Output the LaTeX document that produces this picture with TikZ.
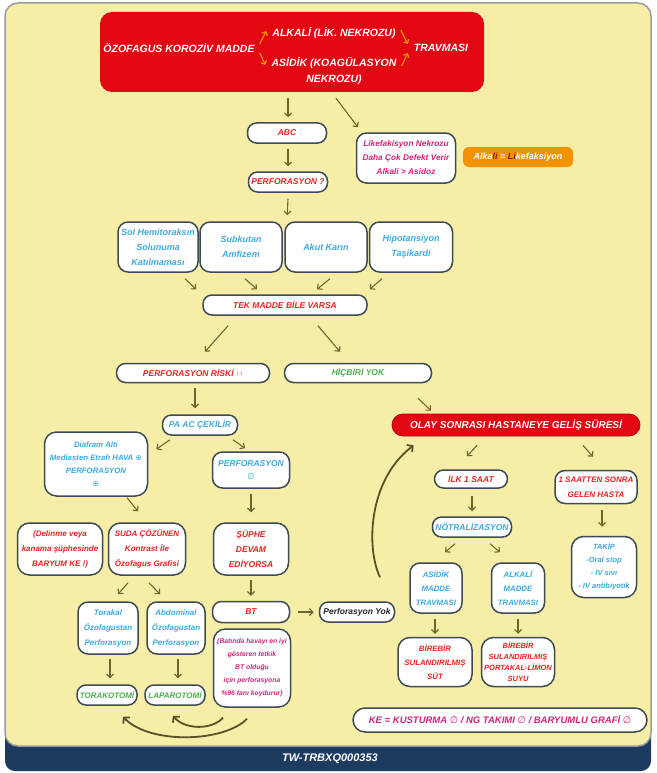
\documentclass[tikz,border=0pt]{standalone}
\usepackage{fontspec}
\setmainfont{Liberation Sans}
\newfontfamily\symfont{DejaVu Sans}
\usetikzlibrary{arrows.meta}

\definecolor{panel}{HTML}{F6EEA6}
\definecolor{framegray}{HTML}{9A9C9E}
\definecolor{navy}{HTML}{1D3A5F}
\definecolor{alarm}{HTML}{E30613}
\definecolor{amber}{HTML}{F39200}
\definecolor{edge}{HTML}{3E4B55}
\definecolor{arrc}{HTML}{6F6431}
\definecolor{redt}{HTML}{E52421}
\definecolor{bluet}{HTML}{3FA9E0}
\definecolor{magt}{HTML}{D4237A}
\definecolor{greent}{HTML}{4DAF4A}
\definecolor{dred}{HTML}{8B1A1A}

\newcommand{\plusc}{{\symfont\mdseries\upshape ⊕}}
\newcommand{\nullc}{{\symfont\mdseries\upshape ∅}}

\begin{document}
\begin{tikzpicture}[x=1pt,y=-1pt,
  every node/.style={font=\bfseries\itshape\fontsize{8.5}{13}\selectfont},
  sz/.style 2 args={minimum width=#1pt, minimum height=#2pt},
  box/.style={draw=edge, line width=1.5pt, fill=white, align=center, inner sep=1pt},
  rbox/.style={box, rounded corners=10pt},
  pill/.style={box, rounded corners=9pt},
  wtxt/.style={text=white, inner sep=0pt, font=\bfseries\itshape\fontsize{10.5}{14}\selectfont},
  arr/.style={draw=arrc, line width=1.1pt, -{Straight Barb[length=3.5pt,width=7pt]}},
  oarr/.style={draw=amber, line width=1.2pt, -{Straight Barb[length=3pt,width=6pt]}},
  carr/.style={draw=arrc!80!black, line width=1.8pt, -{Straight Barb[length=4pt,width=9pt]}}]

\useasboundingbox (0,0) rectangle (656,773);
\fill[white] (0,0) rectangle (656,773);

% panel and footer band
\fill[navy, rounded corners=10pt] (5,725) rectangle (651,771);
\draw[framegray, line width=1.5pt, fill=panel, rounded corners=13pt] (5,3) rectangle (651,746);
\node[text=white, font=\bfseries\itshape\fontsize{11}{13}\selectfont] (code) at (330,759) {TW-TRBXQ000353};

% heading block
\node[fill=alarm, rounded corners=12pt, sz={384}{80}] (top) at (292,52) {};
\node[wtxt] (t1) at (179,48) {ÖZOFAGUS KOROZİV MADDE};
\node[wtxt] (t2) at (334,33) {ALKALİ (LİK. NEKROZU)};
\node[wtxt] (t3) at (334,63) {ASİDİK (KOAGÜLASYON};
\node[wtxt] (t3b) at (334,80) {NEKROZU)};
\node[wtxt] (t4) at (441,48) {TRAVMASI};
\draw[oarr] ([shift={(5,-4)}]t1.east) -- ([shift={(-6,-2)}]t2.west);
\draw[oarr] ([shift={(5,5)}]t1.east) -- ([shift={(-6,2)}]t3.west);
\draw[oarr] ([shift={(5,-3)}]t2.east) -- ([shift={(-6,-4)}]t4.west);
\draw[oarr] ([shift={(5,3)}]t3.east) -- ([shift={(-6,5)}]t4.west);

% first steps
\node[pill, sz={79}{20}, text=redt] (abc) at (287,133) {ABC};
\node[pill, sz={79}{20}, text=redt] (perfq) at (288,182) {PERFORASYON ?};
\node[rbox, sz={99}{50}, text=magt, font=\bfseries\itshape\fontsize{8.3}{14}\selectfont] (likef) at (406,158)
  {Likefakisyon Nekrozu\\Daha Çok Defekt Verir\\Alkali > Asidoz};
\node[fill=amber, rounded corners=6pt, sz={110}{20}, text=white, font=\bfseries\itshape\fontsize{9}{11}\selectfont] (alk) at (518,157)
  {Alka\textcolor{dred}{li} = \textcolor{dred}{Li}kefaksiyon};

\draw[arr] ([shift={(-4,6)}]top.south) -- ([shift={(1,-5)}]abc.north);
\draw[arr] ([shift={(44,6)}]top.south) -- ([shift={(-48,-5)}]likef.north);
\draw[arr] ([shift={(1,5)}]abc.south) -- ([shift={(0,-5)}]perfq.north);

% findings
\node[rbox, sz={80}{50}, text=bluet, font=\bfseries\itshape\fontsize{9}{15}\selectfont] (sol) at (158,247) {Sol Hemitoraksın\\Solunuma\\Katılmaması};
\node[rbox, sz={82}{50}, text=bluet, font=\bfseries\itshape\fontsize{9}{15}\selectfont] (sub) at (241,247) {Subkutan\\Amfizem};
\node[rbox, sz={82}{50}, text=bluet, font=\bfseries\itshape\fontsize{9}{15}\selectfont] (akut) at (326,247) {Akut Karın};
\node[rbox, sz={83}{50}, text=bluet, font=\bfseries\itshape\fontsize{9}{15}\selectfont] (hipo) at (411,247) {Hipotansiyon\\Taşikardi};
\draw[arr] ([shift={(0,6)}]perfq.south) -- ([shift={(3,-6)}]akut.north west);

\node[pill, sz={164}{20}, text=redt] (tek) at (285,305) {TEK MADDE BİLE VARSA};
\draw[arr] ([shift={(27,6)}]sol.south) -- ([shift={(-6,-5)}]tek.north west);
\draw[arr] ([shift={(4,6)}]sub.south) -- ([shift={(-28,-5)}]tek.north);
\draw[arr] ([shift={(4,6)}]akut.south) -- ([shift={(32,-5)}]tek.north);
\draw[arr] ([shift={(-29,6)}]hipo.south) -- ([shift={(2,-5)}]tek.north east);

\node[pill, sz={153}{19}, text=redt] (risk) at (193,373) {PERFORASYON RİSKİ {\fontsize{7}{7}\selectfont ↑↑}};
\node[pill, sz={147}{19}, text=greent] (hic) at (358,373) {HİÇBİRİ YOK};
\draw[arr] ([shift={(-57,10)}]tek.south) -- ([shift={(12,-11)}]risk.north);
\draw[arr] ([shift={(33,10)}]tek.south) -- ([shift={(-18,-11)}]hic.north);

% perforation branch
\node[pill, sz={75}{20}, text=bluet] (paac) at (200,425) {PA AC ÇEKİLİR};
\draw[arr] ([shift={(2,5)}]risk.south) -- ([shift={(-5,-6)}]paac.north);

\node[rbox, rounded corners=12pt, sz={103}{64}, text=bluet, font=\bfseries\itshape\fontsize{7.8}{13}\selectfont] (diaf) at (96,464)
  {Diafram Altı\\Mediasten Etrafı HAVA \plusc\\PERFORASYON\\\plusc};
\node[rbox, sz={77}{36}, text=bluet] (perf0) at (251,470) {PERFORASYON\\\nullc};
\draw[arr] ([shift={(-30,4)}]paac.south) -- ([shift={(8,18)}]diaf.north east);
\draw[arr] ([shift={(33,4)}]paac.south) -- ([shift={(-6,-3)}]perf0.north);

\node[rbox, rounded corners=12pt, sz={85}{52}, text=redt, font=\bfseries\itshape\fontsize{8}{15}\selectfont] (delin) at (60,549)
  {(Delinme veya\\kanama şüphesinde\\BARYUM KE !)};
\node[rbox, rounded corners=12pt, sz={77}{52}, text=redt, font=\bfseries\itshape\fontsize{8}{15}\selectfont] (suda) at (147,549)
  {SUDA ÇÖZÜNEN\\Kontrast İle\\Özofagus Grafisi};
\node[rbox, rounded corners=12pt, sz={75}{52}, text=redt, font=\bfseries\itshape\fontsize{8.5}{15}\selectfont] (suphe) at (251,549)
  {ŞÜPHE\\DEVAM\\EDİYORSA};
\draw[arr] ([shift={(31,1)}]diaf.south) -- ([shift={(-9,-11)}]suda.north);
\draw[arr] ([shift={(0,5)}]perf0.south) -- ([shift={(0,-10)}]suphe.north);

\node[rbox, sz={60}{52}, text=bluet, font=\bfseries\itshape\fontsize{8}{15}\selectfont] (torakal) at (108,628)
  {Torakal\\Özofagustan\\Perforasyon};
\node[rbox, sz={58}{52}, text=bluet, font=\bfseries\itshape\fontsize{8}{15}\selectfont] (abdom) at (176,628)
  {Abdominal\\Özofagustan\\Perforasyon};
\draw[arr] ([shift={(-19,7)}]suda.south) -- ([shift={(10,-7)}]torakal.north);
\draw[arr] ([shift={(2,7)}]suda.south) -- ([shift={(-16,-7)}]abdom.north);

\node[pill, sz={77}{21}, text=redt] (bt) at (251,612) {BT};
\draw[arr] ([shift={(0,4)}]suphe.south) -- ([shift={(0,-5)}]bt.north);
\node[rbox, rounded corners=12pt, sz={77}{78}, text=magt, font=\bfseries\itshape\fontsize{6.8}{13}\selectfont] (batin) at (252,668)
  {(Batında havayı en iyi\\gösteren tetkik\\BT olduğu\\için perforasyona\\\%96 tanı koydurur)};
\node[pill, sz={75}{20}, text=black!85] (pyok) at (357,612) {Perforasyon Yok};
\draw[arr] ([shift={(8,0)}]bt.east) -- ([shift={(-5,0)}]pyok.west);

\node[pill, sz={60}{20}, text=greent, font=\bfseries\itshape\fontsize{8}{10}\selectfont] (torako) at (107,695) {TORAKOTOMİ};
\node[pill, sz={60}{20}, text=greent, font=\bfseries\itshape\fontsize{8}{10}\selectfont] (laparo) at (175,695) {LAPAROTOMİ};
\draw[arr] ([shift={(2,4)}]torakal.south) -- ([shift={(3,-6)}]torako.north);
\draw[arr] ([shift={(2,4)}]abdom.south) -- ([shift={(3,-6)}]laparo.north);

\draw[carr] ([shift={(-5,11)}]batin.south) .. controls (225,742) and (150,745) .. ([shift={(16,11)}]torako.south);
\draw[carr] ([shift={(-29,10)}]batin.south) .. controls (212,730) and (185,730) .. ([shift={(-2,10)}]laparo.south);

% admission time branch
\node[fill=alarm, draw=alarm!80!black, line width=0.8pt, rounded corners=11pt, sz={248}{22}, text=white,
  font=\bfseries\itshape\fontsize{10}{12}\selectfont] (olay) at (516,425) {OLAY SONRASI HASTANEYE GELİŞ SÜRESİ};
\draw[arr] ([shift={(60,15)}]hic.south) -- ([shift={(-85,-3)}]olay.north);
\draw[carr] ([shift={(23,-24)}]pyok.north) .. controls (366,548) and (368,480) .. ([shift={(22,9)}]olay.south west);

\node[pill, sz={73}{18}, text=redt] (ilk) at (471,479) {İLK 1 SAAT};
\node[rbox, sz={82}{33}, text=redt, font=\bfseries\itshape\fontsize{8}{15}\selectfont] (sonra) at (596,487) {1 SAATTEN SONRA\\GELEN HASTA};
\draw[arr] ([shift={(-39,9)}]olay.south) -- ([shift={(-4,-13)}]ilk.north);
\draw[arr] ([shift={(67,9)}]olay.south) -- ([shift={(-3,-13)}]sonra.north);

\node[pill, sz={79}{20}, text=bluet] (notr) at (472,527) {NÖTRALİZASYON};
\draw[arr] ([shift={(1,7)}]ilk.south) -- ([shift={(0,-5)}]notr.north);
\node[rbox, rounded corners=12pt, sz={65}{61}, text=bluet, font=\bfseries\itshape\fontsize{7.5}{13}\selectfont] (takip) at (604,567)
  {TAKİP\\-Oral stop\\- IV sıvı\\- IV antibiyotik};
\draw[arr] ([shift={(6,6)}]sonra.south) -- ([shift={(-2,-9)}]takip.north);

\node[rbox, sz={52}{50}, text=bluet, font=\bfseries\itshape\fontsize{7.8}{14}\selectfont] (asidik) at (436,588) {ASİDİK\\MADDE\\TRAVMASI};
\node[rbox, sz={53}{50}, text=bluet, font=\bfseries\itshape\fontsize{7.8}{14}\selectfont] (alkali) at (518,588) {ALKALİ\\MADDE\\TRAVMASI};
\draw[arr] ([shift={(-17,6)}]notr.south) -- ([shift={(9,-10)}]asidik.north);
\draw[arr] ([shift={(18,6)}]notr.south) -- ([shift={(-18,-10)}]alkali.north);

\node[rbox, rounded corners=12pt, sz={74}{49}, text=redt, font=\bfseries\itshape\fontsize{7.8}{14}\selectfont] (sut) at (435,662)
  {BİREBİR\\SULANDIRILMIŞ\\SÜT};
\node[rbox, rounded corners=12pt, sz={73}{49}, text=redt, font=\bfseries\itshape\fontsize{7.5}{11}\selectfont] (portakal) at (518,662)
  {BİREBİR\\SULANDIRILMIŞ\\PORTAKAL-LİMON\\SUYU};
\draw[arr] ([shift={(-1,5)}]asidik.south) -- ([shift={(0,-3)}]sut.north);
\draw[arr] ([shift={(0,5)}]alkali.south) -- ([shift={(0,-3)}]portakal.north);

\node[pill, rounded corners=12pt, sz={294}{24}, text=magt, font=\bfseries\itshape\fontsize{9.5}{12}\selectfont] (ke) at (500,720)
  {KE = KUSTURMA \nullc\ / NG TAKIMI \nullc\ / BARYUMLU GRAFİ \nullc};

\end{tikzpicture}
\end{document}
